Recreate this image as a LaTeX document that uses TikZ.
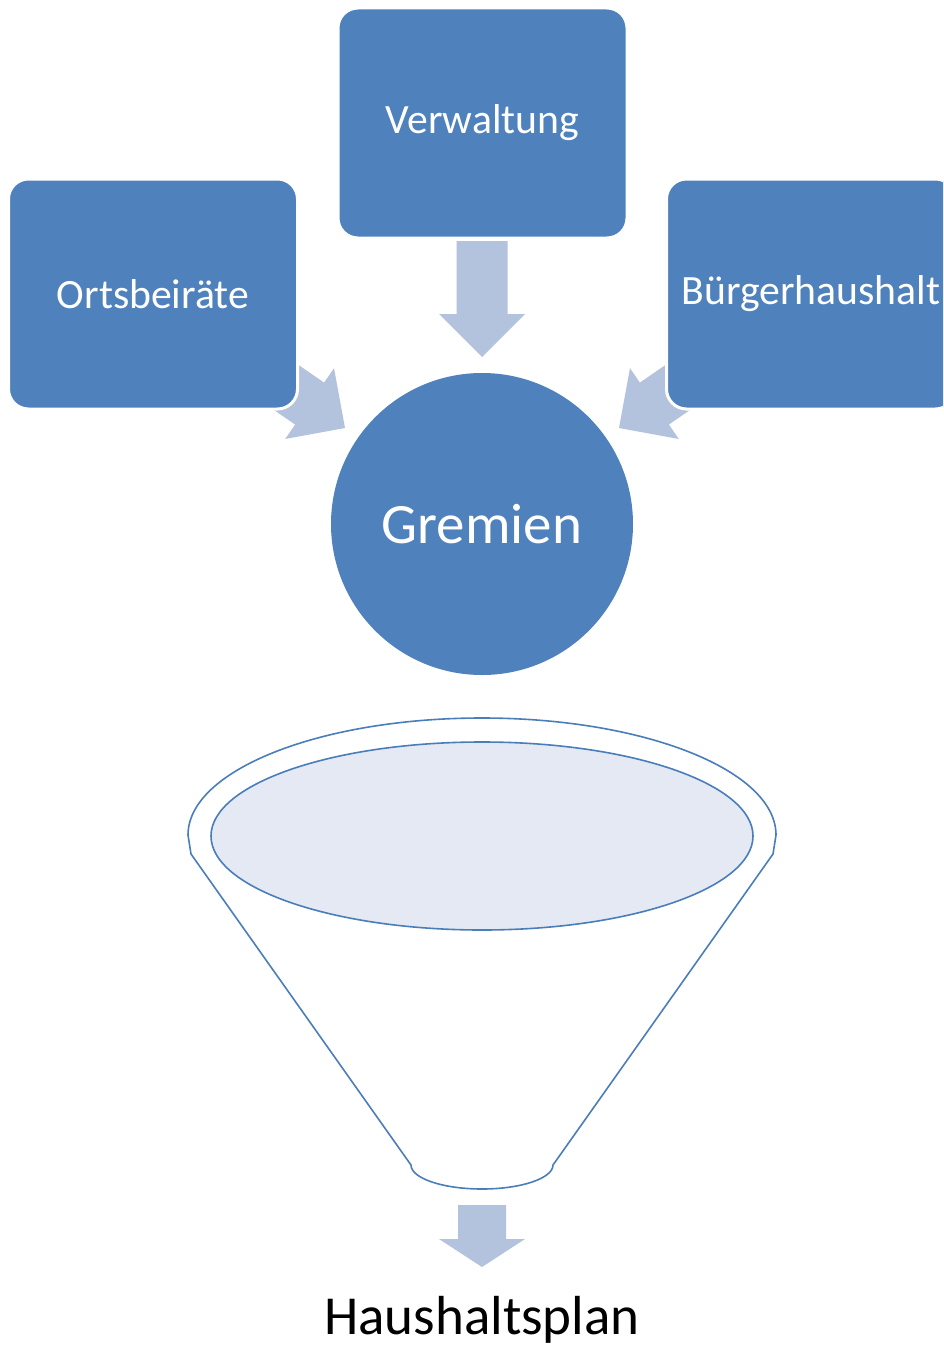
\documentclass[tikz,border=0pt]{standalone}
\usepackage{fontspec}
\setmainfont{Carlito}
\definecolor{boxblue}{HTML}{4F81BD}
\definecolor{arrowblue}{HTML}{B3C2DD}
\definecolor{funnelline}{HTML}{4A7EBB}
\definecolor{funnelfill}{HTML}{E4E9F3}
\begin{document}
\begin{tikzpicture}[x=1pt,y=-1pt,
  box/.style={fill=boxblue, draw=white, line width=3pt, rounded corners=20pt,
    minimum width=289pt, minimum height=230pt, inner sep=0pt,
    text=white, font=\fontsize{41.7}{50}\selectfont},
  hub/.style={circle, fill=boxblue, minimum size=302pt, inner sep=0pt,
    text=white, font=\fontsize{57}{68}\selectfont},
  funnel/.style={draw=funnelline, line width=1.6pt},
  blockarrow/.pic={\fill[arrowblue] (0,0) -- (-43,-43) -- (-43,-25.5) -- (-116,-25.5)
    -- (-116,25.5) -- (-43,25.5) -- (-43,43) -- cycle;}
]
\useasboundingbox (0,0) rectangle (943,1346);
\clip (0,0) rectangle (943,1346);
\fill[white] (0,0) rectangle (943,1346);

% block arrows towards the hub
\pic[rotate=-34.6] at (345,428) {blockarrow};
\pic[rotate=-145.4] at (619,428) {blockarrow};
\pic[rotate=-90] at (482,357) {blockarrow};

% source boxes
\node[box] (verw) at (482.5,123) {\raisebox{-2pt}{Verwaltung}};
\node[box] (orts) at (153,294) {Ortsbeiräte};
\node[box] (buerger) at (811,294) {Bürgerhaushalt};

% hub
\node[hub] (gremien) at (482,524) {Gremien};

% funnel
\draw[funnel, fill=white] (188,835)
  arc[start angle=180, end angle=360, x radius=294, y radius=117]
  -- (773,854) -- (553,1165)
  arc[start angle=0, end angle=180, x radius=71, y radius=24]
  -- (191,854) -- cycle;
\draw[funnel, fill=funnelfill] (482,836) ellipse[x radius=271, y radius=94];

% output arrow
\fill[arrowblue] (458,1205) -- (506,1205) -- (506,1239) -- (525,1239) -- (482,1267)
  -- (439,1239) -- (458,1239) -- cycle;

\node[font=\fontsize{55}{66}\selectfont, text=black] (plan) at (482,1320) {Haushaltsplan};
\end{tikzpicture}
\end{document}
